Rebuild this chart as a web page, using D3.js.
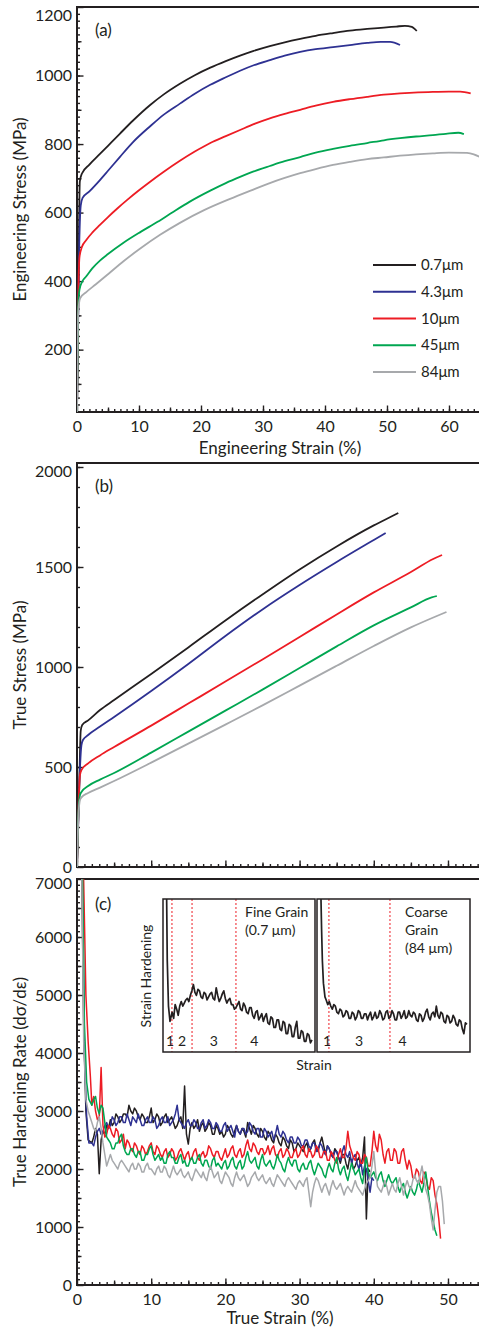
<!DOCTYPE html>
<html><head><meta charset="utf-8">
<script src="https://cdn.jsdelivr.net/npm/d3@7"></script>
<style>
body{margin:0;background:#fff;}
svg{display:block;}
</style></head><body>
<svg id="chart" width="479" height="1332"></svg>
<script>
// ---------------- DATA ----------------
const grainSizes = ["0.7μm", "4.3μm", "10μm", "45μm", "84μm"];
const seriesColors = ["#231f20", "#2e3192", "#ed1c24", "#00a651", "#a7a9ac"];

// Panel (a): engineering strain (%) vs engineering stress (MPa)
const eng07 = [[0,18],[0.25,400],[0.45,690],[0.8,714],[2,740],[3.7,771],[5,795],[6.9,830],[9,868],[11.8,914],[14,945],[16.6,976],[19,1001],[21.5,1023],[24,1042],[26.3,1058],[28.5,1072],[31.1,1086],[33.5,1097],[36,1107],[38.5,1116],[41.3,1124],[44,1131],[46.8,1136],[49.5,1140],[51.5,1143],[52.9,1145],[54,1142],[54.8,1130]];
const eng43 = [[0,18],[0.3,450],[0.6,620],[0.9,643],[2,662],[3.7,695],[5,722],[6.9,762],[9,805],[11.8,852],[14,886],[16.6,918],[19,947],[21.5,973],[24,995],[26.3,1014],[28.5,1030],[31.1,1045],[33.5,1058],[36,1069],[38.5,1077],[41.3,1083],[44,1089],[46.8,1095],[49,1098],[50.5,1098],[52.1,1089]];
const eng10 = [[0,18],[0.2,350],[0.4,470],[0.8,500],[1.5,520],[2.5,542],[3.7,564],[5,587],[6.5,612],[8.1,637],[10,665],[11.8,690],[14,719],[16.6,751],[19,778],[21.5,803],[24,823],[26.3,841],[28.5,858],[31.1,875],[33.5,888],[36,900],[38.5,912],[41.3,923],[44,931],[46.8,938],[49.5,944],[52.1,948],[55,951],[57.4,952],[60,953],[61.8,953],[63.5,948]];
const eng45 = [[0,18],[0.2,330],[0.4,375],[0.8,397],[1.5,414],[2.5,438],[3.7,460],[5,479],[7.5,512],[10.2,543],[13,573],[15.5,602],[18.2,632],[21.5,664],[24,686],[26.3,704],[28.5,720],[31.1,736],[33.5,750],[36,762],[38.5,775],[41.3,786],[44,795],[46.8,803],[49.5,811],[52.1,817],[54.7,822],[57.4,826],[59.5,830],[61.5,833],[62.4,829]];
const eng84 = [[0,18],[0.2,310],[0.5,350],[1.5,368],[3,390],[5,420],[7.5,458],[10.2,495],[13.4,535],[16.6,570],[20.5,607],[24.7,640],[28,664],[31.1,686],[33.5,701],[36,715],[38.5,727],[41.3,739],[44,748],[46.8,756],[49.5,761],[52.1,766],[54.7,770],[57.4,773],[60,775],[62.9,774],[64,770],[65,762]];

// Panel (b): true strain (%) vs true stress (MPa)
const true07 = [[0,0],[0.3,400],[0.5,680],[0.7,710],[1.5,733],[3.1,785],[5,835],[10,965],[15,1098],[20,1233],[25,1363],[30,1488],[35,1603],[40,1708],[42.5,1755],[43.3,1770]];
const true43 = [[0,0],[0.3,400],[0.6,610],[0.8,635],[1.5,660],[3.1,702],[5,750],[10,880],[15,1015],[20,1155],[25,1288],[30,1410],[35,1525],[40,1635],[41.6,1670]];
const true10 = [[0,0],[0.2,300],[0.4,460],[0.6,485],[1.5,518],[3.1,558],[5,600],[10,707],[15,817],[20,927],[25,1038],[30,1150],[35,1263],[40,1373],[45,1475],[48,1540],[49.2,1560]];
const true45 = [[0,0],[0.2,280],[0.4,360],[0.6,375],[1.5,405],[3.1,437],[5,470],[10,572],[15,677],[20,782],[25,887],[30,995],[35,1103],[40,1208],[45,1298],[47.8,1348],[48.5,1355]];
const true84 = [[0,0],[0.2,260],[0.4,335],[0.6,348],[1.5,370],[3.1,397],[5,430],[10,522],[15,617],[20,712],[25,808],[30,907],[35,1006],[40,1105],[45,1198],[48.5,1255],[49.8,1275]];

// Panel (c): true hardening rate; head points [strain, rate], then rates read every 0.25 % from 2.0 %
const hardStart = 2.0, hardStep = 0.25;
const hardHead07 = [[0.6,7600],[0.9,4500],[1.2,3000],[1.5,2500]];
const hard07 = [2450,2550,2700,2600,1920,2500,2650,2600,2750,2700,
  2850,2750,2800,2950,2900,2800,2850,2950,2950,2900,
  3100,3000,2950,3050,3000,2900,2850,2950,2900,2800,
  2800,2900,3050,2800,2850,2950,2900,2750,2800,2900,
  2950,2800,2850,2900,2800,2700,2750,2850,2900,2700,
  3430,2600,2430,2700,2800,2700,2750,2850,2650,2750,
  2800,2650,2700,2800,2750,2600,2600,2750,2700,2600,
  2650,2550,2600,2750,2700,2600,2550,2650,2750,2650,
  2600,2700,2650,2550,2800,2700,2600,2750,2700,2600,
  2550,2700,2650,2550,2500,2650,2600,2500,2450,2600,
  2550,2450,2400,2550,2500,2400,2350,2500,2450,2300,
  2350,2450,2400,2350,2300,2400,2450,2300,2350,2450,
  2500,2350,2300,2450,2550,2400,2250,2400,2350,2250,
  2200,2350,2300,2200,2100,2250,2250,2100,2000,2200,
  2150,2000,2050,2150,2200,2050,2200,2550,1140,2000,
  1950];
const hardHead43 = [[0.7,7600],[1.0,4000],[1.3,2900],[1.6,2450]];
const hard43 = [2450,2400,2550,2650,2700,2600,2650,2750,2800,2700,2750,2900,2850,2750,2800,2900,2900,2800,2800,2950,
  2850,2750,2900,2850,2800,2950,2850,2750,2750,2850,2900,2800,2800,2900,2850,2700,2750,2850,2900,2800,
  2800,2900,2750,2800,2850,2950,3100,2850,2800,2750,2700,2800,2850,2750,2750,2850,2800,2700,2700,2800,
  2850,2700,2750,2850,2800,2700,2700,2800,2750,2650,2650,2750,2800,2650,2700,2750,2650,2550,2750,2650,
  2600,2700,2700,2600,2650,2800,2750,2650,2600,2700,2700,2550,2550,2700,2650,2550,2600,2650,2500,2600,
  2750,2600,2550,2650,2600,2500,2450,2550,2550,2450,2450,2550,2500,2400,2400,2500,2500,2400,2350,2450,
  2450,2300,2350,2450,2400,2300,2250,2400,2350,2250,2200,2300,2300,2200,2150,2300,2400,2250,2200,2300,
  2100,2200,2250,2100,2000,2150,1900,2050,2000,1800,1600,1850,1800];
const hardHead10 = [[0.8,7600],[1.2,5000],[1.5,4200],[1.8,3600]];
const hard10 = [3100,3250,3000,2850,2900,3750,2750,2550,2600,2750,
  2700,2600,2550,2700,2650,2450,2500,2600,2350,2500,
  2450,2350,2300,2450,2400,2300,2250,2400,2350,2250,
  2300,2400,2450,2300,2250,2400,2350,2250,2200,2300,
  2350,2200,2250,2350,2300,2150,2200,2300,2350,2250,
  2150,2250,2300,2150,2200,2300,2350,2200,2150,2250,
  2300,2200,2250,2400,2350,2250,2200,2300,2300,2200,
  2150,2250,2350,2200,2250,2350,2400,2250,2200,2300,
  2350,2200,2250,2400,2500,2350,2300,2450,2400,2300,
  2250,2350,2350,2250,2300,2400,2250,2350,2400,2250,
  2200,2300,2350,2200,2250,2350,2300,2200,2200,2300,
  2350,2200,2250,2350,2400,2250,2200,2350,2300,2200,
  2250,2400,2350,2200,2200,2300,2300,2150,2150,2300,
  2250,2150,2100,2250,2350,2200,2200,2350,2650,2400,
  2300,2200,2150,2300,2250,2100,2100,2250,2200,2050,
  2050,2300,2650,2400,2300,2600,2500,2250,2100,2300,
  2350,2150,2150,2350,2300,2100,2100,2300,2350,2150,
  2000,2150,2050,1850,1850,2000,1950,1800,1750,1950,
  1900,1700,1650,1850,1800,1550,1400,1150,800];
const hardHead45 = [[0.7,7600],[1.0,4500],[1.3,3500],[1.6,3200]];
const hard45 = [3100,3200,3250,3050,2950,3100,3050,2800,2550,2500,
  2450,2350,2350,2450,2450,2550,2600,2400,2300,2250,
  2250,2350,2350,2250,2200,2300,2300,2150,2150,2250,
  2250,2350,2400,2250,2150,2200,2250,2150,2200,2100,
  2100,2250,2300,2200,2200,2100,2100,2200,2250,2100,
  2150,2050,2050,2150,2200,2100,2100,2200,2250,2100,
  2050,2150,2150,2050,2000,2150,2200,2050,2100,2050,
  2000,2100,2150,2000,2050,2150,2200,2050,2000,2100,
  2150,2000,2050,2200,2300,2150,2100,2150,2200,2050,
  2000,2150,2250,2100,2050,2100,2150,2050,2000,2100,
  2250,2150,2100,2000,1950,2100,2200,2100,2050,2150,
  2150,2000,1950,2050,2100,2000,2000,2100,2150,2000,
  1900,2000,2100,2050,2000,1900,1850,2000,2100,2000,
  1950,2100,2200,2000,1900,2000,2050,1900,1800,1950,
  2100,2000,1900,1950,2000,1850,1750,2000,2200,1950,
  1850,1900,1950,1850,1800,1900,1950,1800,1700,1800,
  1900,1800,1750,1800,1850,1700,1600,1700,1750,1600,
  1500,1600,1700,1600,1550,1650,1800,1700,1600,1750,
  1950,1700,1450,1250,1100,950,850];
const hardHead84 = [[0.6,7600],[0.9,4200],[1.2,3200],[1.5,3000]];
const hard84 = [2800,2700,2650,2800,2900,2700,2450,2250,2050,2150,
  2250,2150,2100,2050,2000,2100,2150,2100,2050,2000,
  1950,2050,2100,2000,2000,2100,2050,1950,1950,2050,
  2100,2000,2000,1950,1900,2000,2050,1950,1950,2050,
  2000,1900,1850,1950,2050,1950,1900,1950,2000,1900,
  1850,1900,1950,1850,1800,1900,2000,1950,1900,1850,
  1950,1850,1800,1950,2050,1950,1850,1900,1950,1800,
  1750,1850,1950,1900,1850,1750,1700,1850,1950,1850,
  1800,1850,1900,1800,1700,1750,1850,1900,1950,1850,
  1800,1850,1900,1800,1750,1800,1850,1750,1700,1800,
  1900,1850,1800,1750,1700,1800,1850,1800,1750,1700,
  1650,1750,1800,1750,1700,1800,1850,1600,1350,1600,
  1750,1850,1800,1700,1600,1700,1750,1650,1550,1700,
  1800,1700,1650,1700,1750,1650,1550,1650,1700,1650,
  1600,1700,1800,1700,1650,1600,1550,1650,1750,1800,
  1850,2050,2300,1950,1700,1650,1600,1700,1800,1700,
  1550,1650,1750,1650,1600,1750,1850,1700,1550,1700,
  1800,1700,1650,1800,1900,1800,1750,1900,2050,1850,
  1650,1550,1400,1150,950,1300,1600,1700,1700,1450,
  1050];

// Inset (normalized 0-100 units): head points, then values every 1 unit from 6
const insetStart = 6, insetStep = 1;
const fineHead = [[2.4,100],[2.8,60],[3.6,30],[4.6,20]];
const fineVals = [26,22,31,28,24,30,33,30,32,34,35,33,37,40,44,39,37,41,40,36,
  35,39,38,34,36,38,39,35,34,42,37,33,35,38,40,35,32,34,35,31,
  31,28,29,31,33,28,27,32,30,26,25,29,29,24,22,26,27,21,23,25,
  20,23,25,19,18,23,22,16,16,21,21,15,14,20,19,12,12,18,17,10,
  10,16,20,9,9,14,13,7,7,12,11,6,8];
const coarseHead = [[2.6,100],[3.0,80],[3.5,60],[4.2,45],[5.2,36]];
const coarseVals = [34,31,33,30,28,31,30,26,25,28,27,23,24,27,26,22,22,26,25,21,
  23,27,26,22,22,25,25,21,24,26,21,23,26,22,23,27,25,21,22,26,
  27,22,23,27,25,21,21,26,26,22,24,27,22,23,27,24,23,26,25,21,
  20,25,24,20,22,26,28,23,21,25,26,23,30,24,22,26,25,20,19,24,
  23,19,20,24,22,18,17,21,20,15,12,19,18];
const fineStageLines = [5.9, 19.1, 48];
const coarseStageLines = [7.8, 47.7];
const fineStageLabels = [["1",2],["2",12.5],["3",33.5],["4",60]];
const coarseStageLabels = [["1",4],["3",27.5],["4",56]];

// Tick labels
const engStrainTicks = [0,10,20,30,40,50,60];
const engStressTicks = [200,400,600,800,1000,1200];
const trueStrainTicks = [0,10,20,30,40,50];
const trueStressTicks = [0,500,1000,1500,2000];
const hardTicks = [0,1000,2000,3000,4000,5000,6000,7000];

// ---------------- DRAWING ----------------
const ink = "#231f20";
const font = "Lato, 'Open Sans', sans-serif";
const svg = d3.select("#chart");
const plain = d3.format("d");

function tickLayer(parent, axisFn, scale, values, len, withLabels, pad) {
  const ax = axisFn(scale).tickValues(values).tickSizeInner(-len).tickSizeOuter(0).tickPadding(pad || 6)
    .tickFormat(withLabels ? plain : () => "");
  const g = parent.append("g").call(ax);
  g.select(".domain").remove();
  g.selectAll(".tick line").attr("stroke", ink).attr("stroke-width", 1.4);
  g.selectAll(".tick text").attr("fill", ink).attr("font-family", font).attr("font-size", 16);
  return g;
}

function panel(cfg) {
  const {x, y, clipId} = cfg;
  const [x0, x1] = x.range();
  const [yb, yt] = y.range();
  svg.append("clipPath").attr("id", clipId).append("rect")
    .attr("x", x0).attr("y", yt).attr("width", x1 - x0).attr("height", yb - yt);
  const gx = svg.append("g").attr("transform", `translate(0,${yb})`);
  tickLayer(gx, d3.axisBottom, x, cfg.xMinor, 3, false);
  tickLayer(gx, d3.axisBottom, x, cfg.xMid, 4.5, false);
  tickLayer(gx, d3.axisBottom, x, cfg.xMajor, 6.5, cfg.xLabels, 9);
  const gy = svg.append("g").attr("transform", `translate(${x0},0)`);
  tickLayer(gy, d3.axisLeft, y, cfg.yMinor, 3, false);
  if (cfg.yMid) tickLayer(gy, d3.axisLeft, y, cfg.yMid, 4.5, false);
  const gl = tickLayer(gy, d3.axisLeft, y, cfg.yMajor, 6.5, true, 5);
  gl.selectAll(".tick text").filter(d => d === cfg.yTop).attr("dy", cfg.yTopDy);
  svg.append("line").attr("x1", x0).attr("x2", x1).attr("y1", yb).attr("y2", yb).attr("stroke", ink).attr("stroke-width", 2);
  svg.append("line").attr("x1", x0).attr("x2", x0).attr("y1", yb + 1).attr("y2", yt - 1).attr("stroke", ink).attr("stroke-width", 2);
  svg.append("line").attr("x1", x0).attr("x2", x1).attr("y1", yt).attr("y2", yt).attr("stroke", ink).attr("stroke-width", 2);
  svg.append("text").attr("x", x0 + 18).attr("y", cfg.letterY).text(cfg.letter)
    .attr("font-family", font).attr("font-size", 17).attr("fill", ink);
  svg.append("text").attr("transform", `translate(26,${(yb + yt) / 2}) rotate(-90)`)
    .attr("text-anchor", "middle").attr("font-family", font).attr("font-size", 17).attr("fill", ink)
    .text(cfg.yTitle);
  if (cfg.xTitle) {
    svg.append("text").attr("x", 280).attr("y", cfg.xTitleY).attr("text-anchor", "middle")
      .attr("font-family", font).attr("font-size", 17).attr("fill", ink).text(cfg.xTitle);
  }
  return svg.append("g").attr("clip-path", `url(#${clipId})`);
}

// Panel (a)
const xA = d3.scaleLinear().domain([0, 64.84]).range([77, 479]);
const yA = d3.scaleLinear().domain([18, 1200]).range([412, 7]);
const plotA = panel({
  x: xA, y: yA, clipId: "clipA",
  xMinor: d3.range(1, 65, 1), xMid: d3.range(5, 65, 10), xMajor: engStrainTicks, xLabels: true,
  yMinor: d3.range(20, 1200, 20), yMid: d3.range(100, 1200, 200), yMajor: engStressTicks,
  yTop: 1200, yTopDy: "0.85em",
  letter: "(a)", letterY: 36,
  yTitle: "Engineering Stress (MPa)", xTitle: "Engineering Strain (%)", xTitleY: 454
});
const lineA = d3.line().curve(d3.curveMonotoneX).x(d => xA(d[0])).y(d => yA(d[1]));
[eng07, eng43, eng10, eng45, eng84].forEach((s, i) => {
  plotA.append("path").attr("d", lineA(s)).attr("fill", "none")
    .attr("stroke", seriesColors[i]).attr("stroke-width", 1.8).attr("stroke-linejoin", "round");
});
const legY = d3.scalePoint().domain(grainSizes).range([265, 372]);
grainSizes.forEach((name, i) => {
  svg.append("line").attr("x1", 373).attr("x2", 416).attr("y1", legY(name)).attr("y2", legY(name))
    .attr("stroke", seriesColors[i]).attr("stroke-width", 1.8);
  svg.append("text").attr("x", 421).attr("y", legY(name) + 5).text(name)
    .attr("font-family", font).attr("font-size", 15).attr("fill", ink);
});

// Panel (b)
const xB = d3.scaleLinear().domain([0, 54.18]).range([77, 479]);
const yB = d3.scaleLinear().domain([0, 2020]).range([867, 463]);
const plotB = panel({
  x: xB, y: yB, clipId: "clipB",
  xMinor: d3.range(1, 55, 1), xMid: d3.range(5, 55, 10), xMajor: trueStrainTicks, xLabels: false,
  yMinor: d3.range(100, 2020, 100), yMid: null, yMajor: trueStressTicks,
  yTop: 2000, yTopDy: "0.62em",
  letter: "(b)", letterY: 492,
  yTitle: "True Stress (MPa)"
});
const lineB = d3.line().curve(d3.curveMonotoneX).x(d => xB(d[0])).y(d => yB(d[1]));
[true07, true43, true10, true45, true84].forEach((s, i) => {
  plotB.append("path").attr("d", lineB(s)).attr("fill", "none")
    .attr("stroke", seriesColors[i]).attr("stroke-width", 1.8).attr("stroke-linejoin", "round");
});

// Panel (c)
const xC = d3.scaleLinear().domain([0, 54.18]).range([77, 479]);
const yC = d3.scaleLinear().domain([0, 7000]).range([1285, 879]);
const plotC = panel({
  x: xC, y: yC, clipId: "clipC",
  xMinor: d3.range(1, 55, 1), xMid: d3.range(5, 55, 10), xMajor: trueStrainTicks, xLabels: true,
  yMinor: d3.range(100, 7000, 100), yMid: d3.range(500, 7000, 1000), yMajor: hardTicks,
  yTop: 7000, yTopDy: "0.62em",
  letter: "(c)", letterY: 910,
  yTitle: "True Hardening Rate (dσ/dε)", xTitle: "True Strain (%)", xTitleY: 1324
});
const lineC = d3.line().x(d => xC(d[0])).y(d => yC(d[1]));
const hardSeries = [[hardHead07, hard07], [hardHead43, hard43], [hardHead10, hard10], [hardHead45, hard45], [hardHead84, hard84]];
hardSeries.forEach(([head, vals], i) => {
  const pts = head.concat(vals.map((v, k) => [hardStart + k * hardStep, v]));
  plotC.append("path").attr("d", lineC(pts)).attr("fill", "none")
    .attr("stroke", seriesColors[i]).attr("stroke-width", 1.5).attr("stroke-linejoin", "round");
});

// Inset
function inset(xr, head, vals, stages, stageLabels, clipId) {
  const xi = d3.scaleLinear().domain([0, 100]).range(xr);
  const yi = d3.scaleLinear().domain([0, 100]).range([1052, 899]);
  svg.append("clipPath").attr("id", clipId).append("rect")
    .attr("x", xr[0]).attr("y", 899).attr("width", xr[1] - xr[0]).attr("height", 153);
  const g = svg.append("g");
  stages.forEach(s => {
    g.append("line").attr("x1", xi(s)).attr("x2", xi(s)).attr("y1", 899).attr("y2", 1052)
      .attr("stroke", "#ed1c24").attr("stroke-width", 1).attr("stroke-dasharray", "2,2");
  });
  const pts = head.concat(vals.map((v, k) => [insetStart + k * insetStep, v]));
  g.append("path").attr("clip-path", `url(#${clipId})`)
    .attr("d", d3.line().x(d => xi(d[0])).y(d => yi(d[1]))(pts))
    .attr("fill", "none").attr("stroke", ink).attr("stroke-width", 1.7).attr("stroke-linejoin", "round");
  stageLabels.forEach(([t, p]) => {
    g.append("text").attr("x", xi(p)).attr("y", 1046).attr("text-anchor", p < 5 ? "start" : "middle")
      .attr("font-family", font).attr("font-size", 14).attr("fill", ink).text(t);
  });
  g.append("rect").attr("x", xr[0]).attr("y", 899).attr("width", xr[1] - xr[0]).attr("height", 153)
    .attr("fill", "none").attr("stroke", ink).attr("stroke-width", 1.5);
}
inset([163, 315], fineHead, fineVals, fineStageLines, fineStageLabels, "clipI1");
inset([317, 470], coarseHead, coarseVals, coarseStageLines, coarseStageLabels, "clipI2");
const insetText = [["Fine Grain", 245, 917], ["(0.7 μm)", 245, 935], ["Coarse", 405, 917], ["Grain", 405, 935], ["(84 μm)", 405, 953]];
insetText.forEach(([t, x, y]) => {
  svg.append("text").attr("x", x).attr("y", y).text(t)
    .attr("font-family", font).attr("font-size", 14).attr("fill", ink);
});
svg.append("text").attr("x", 314).attr("y", 1070).attr("text-anchor", "middle").text("Strain")
  .attr("font-family", font).attr("font-size", 14).attr("fill", ink);
svg.append("text").attr("transform", "translate(151,976) rotate(-90)").attr("text-anchor", "middle")
  .text("Strain Hardening").attr("font-family", font).attr("font-size", 14).attr("fill", ink);
</script>
</body></html>
